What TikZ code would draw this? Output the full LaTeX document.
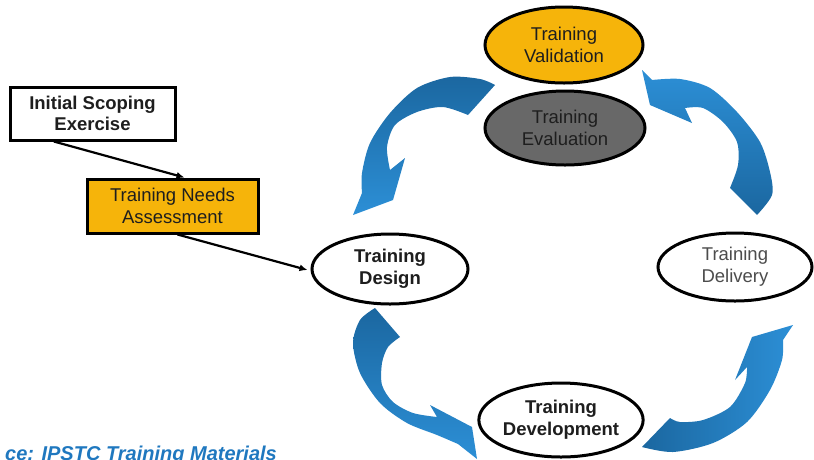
\documentclass[tikz,border=0pt]{standalone}
\usepackage{fontspec}
\setmainfont{Liberation Sans}
\usetikzlibrary{shapes.geometric,arrows.meta,calc}
\definecolor{gold}{HTML}{F6B40A}
\definecolor{evalgray}{HTML}{686868}
\definecolor{inkgray}{HTML}{1E1E1E}
\definecolor{bluedark}{HTML}{1B67A0}
\definecolor{bluelight}{HTML}{2C8FD6}
\definecolor{captionblue}{HTML}{1F78BF}
\begin{document}
\begin{tikzpicture}[x=1pt,y=-1pt,
  every node/.style={font=\fontsize{18.5}{22}\selectfont, text=inkgray, align=center},
  stagebox/.style={draw=black, line width=3pt, inner sep=0pt},
  stage/.style={ellipse, draw=black, line width=3pt, inner sep=0pt,
    minimum width=157pt, minimum height=72pt},
  link/.style={draw=black, line width=2.2pt, -{Latex[length=8pt,width=7pt]}},
  flow/.style={draw=none}]
\useasboundingbox (0,0) rectangle (814,459);

% left-hand boxes
\node[stagebox, fill=white, minimum width=165pt, minimum height=53pt]
  (scope) at (92.5,113.5) {\bfseries Initial Scoping\\[-1pt]\bfseries Exercise};
\node[stagebox, fill=gold, minimum width=171pt, minimum height=54pt]
  (tna) at (172.5,206) {Training Needs\\Assessment};

% cycle stages
\node[stage, fill=gold, minimum width=158pt, minimum height=76pt] (valid) at (564,45) {Training\\Validation};
\node[stage, fill=evalgray, minimum width=160pt, minimum height=74pt] (eval) at (565,128) {Training\\Evaluation};
\node[stage, fill=white, minimum width=156pt, minimum height=70pt] (design) at (390,269) {\bfseries Training\\\bfseries Design};
\node[stage, fill=white, minimum width=154pt, minimum height=68pt] (deliv) at (735,267) {\color{black!70}Training\\\color{black!70}Delivery};
\node[stage, fill=white, minimum width=158pt, minimum height=74pt] (devel) at (561,420) {\bfseries Training\\\bfseries Development};

% feed-in connectors
\draw[link] ($(scope.south west)!0.27!(scope.south east)$) -- ($(tna.north)+(12,0)$);
\draw[link] ($(tna.south)+(5,0)$) -- ($(design.west)+(-3,1)$);

% curved block arrows around the cycle
\shade[flow, top color=bluedark, bottom color=bluelight]
  plot[smooth] coordinates {(495,85) (480,79) (450,77) (417,88) (390,113) (370,143) (362,173) (362,193)}
  -- (353,215) -- (393,200) -- (405,158)
  -- plot[smooth] coordinates {(390,170) (387,147) (395,125) (417,112) (443,107) (468,115)}
  -- cycle;

\shade[flow, top color=bluelight, bottom color=bluedark]
  (642,70) -- plot[smooth] coordinates {(652,80) (680,79) (710,88) (737,112) (760,142) (770,172) (772,195) (757,215)}
  -- plot[smooth] coordinates {(730,188) (738,165) (737,142) (723,122) (703,108) (685,108)}
  -- (692,123) -- (650,105) -- cycle;

\shade[flow, top color=bluedark, bottom color=bluelight]
  plot[smooth] coordinates {(375,308) (360,320) (353,343) (360,373) (380,403) (407,423) (437,435) (458,444)}
  -- (477,459) -- (472,427) -- (430,405)
  -- plot[smooth] coordinates {(437,417) (413,413) (393,402) (382,385) (382,363) (388,347) (400,337)}
  -- cycle;

\shade[flow, left color=bluedark, right color=bluelight]
  plot[smooth] coordinates {(642,447) (673,452) (713,443) (747,422) (770,390) (782,360) (783,340)}
  -- (793,325) -- (752,337) -- (735,380)
  -- plot[smooth] coordinates {(747,367) (745,383) (730,407) (703,420) (680,422) (670,418)}
  -- cycle;

% source line
\begin{scope}
\clip (0,0) rectangle (814,459);
\node[anchor=base east, inner sep=0pt, text=captionblue,
  font=\fontsize{20}{24}\selectfont\bfseries\itshape] (src) at (277,460) {ce: IPSTC Training Materials};
\end{scope}
\end{tikzpicture}
\end{document}
